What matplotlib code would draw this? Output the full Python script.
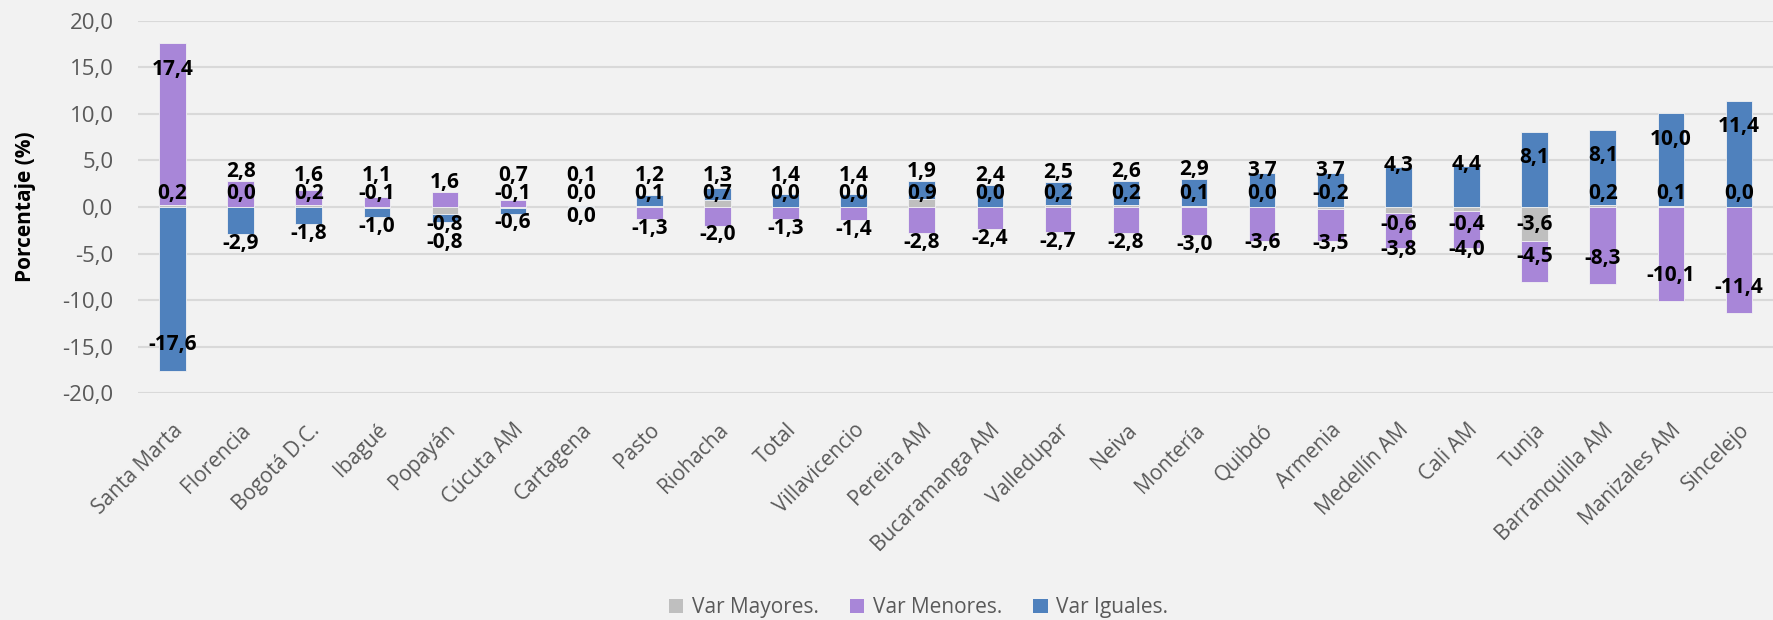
import numpy as np
import matplotlib.pyplot as plt
import matplotlib.transforms as mtransforms
from matplotlib.patches import Patch

plt.rcParams['font.family'] = ['Open Sans', 'DejaVu Sans']

# Datos por ciudad (variación en puntos porcentuales)
ciudades = ['Santa Marta', 'Florencia', 'Bogotá D.C.', 'Ibagué', 'Popayán', 'Cúcuta AM',
            'Cartagena', 'Pasto', 'Riohacha', 'Total', 'Villavicencio', 'Pereira AM',
            'Bucaramanga AM', 'Valledupar', 'Neiva', 'Montería', 'Quibdó', 'Armenia',
            'Medellín AM', 'Cali AM', 'Tunja', 'Barranquilla AM', 'Manizales AM', 'Sincelejo']
var_mayores = [0.2, 0.0, 0.2, -0.1, -0.8, -0.1, 0.0, 0.1, 0.7, 0.0, 0.0, 0.9,
               0.0, 0.2, 0.2, 0.1, 0.0, -0.2, -0.6, -0.4, -3.6, 0.2, 0.1, 0.0]
var_menores = [17.4, 2.8, 1.6, 1.1, 1.6, 0.7, 0.0, -1.3, -2.0, -1.3, -1.4, -2.8,
               -2.4, -2.7, -2.8, -3.0, -3.6, -3.5, -3.8, -4.0, -4.5, -8.3, -10.1, -11.4]
var_iguales = [-17.6, -2.9, -1.8, -1.0, -0.8, -0.6, 0.1, 1.2, 1.3, 1.4, 1.4, 1.9,
               2.4, 2.5, 2.6, 2.9, 3.7, 3.7, 4.3, 4.4, 8.1, 8.1, 10.0, 11.4]

nombres = ['Var Mayores.', 'Var Menores.', 'Var Iguales.']
colores = ['#BFBFBF', '#A886D8', '#4F81BD']
series = [var_mayores, var_menores, var_iguales]

fondo = '#F2F2F2'
gris_txt = '#595959'

def fmt(v):
    return f'{v:.1f}'.replace('.', ',')

fig = plt.figure(figsize=(17.73, 6.2), dpi=100, facecolor=fondo)
ax = fig.add_axes([0.0781, 0.3656, 0.9219, 0.601])
ax.set_facecolor(fondo)

x = np.arange(len(ciudades))
ancho = 0.39

# apilado estilo Excel: positivos y negativos por separado
base_pos = np.zeros(len(ciudades))
base_neg = np.zeros(len(ciudades))
fin_seg = []
for vals, col, nom in zip(series, colores, nombres):
    v = np.array(vals)
    base = np.where(v >= 0, base_pos, base_neg)
    ax.bar(x, v, ancho, bottom=base, color=col, edgecolor=fondo, linewidth=0.6,
           label=nom, zorder=3)
    fin_seg.append(base + v)
    base_pos = np.where(v >= 0, base_pos + v, base_pos)
    base_neg = np.where(v < 0, base_neg + v, base_neg)

# etiquetas de datos
for i in range(len(ciudades)):
    g = var_mayores[i]
    y_g = 1.5 if g >= -0.25 else -1.9
    ax.text(x[i], y_g, fmt(g), ha='center', va='center', fontsize=15,
            fontweight='bold', color='black', zorder=5)
    for k in (1, 2):
        v = series[k][i]
        lado = 1 if v > 0 else -1
        fin = abs(fin_seg[k][i])
        if fin < 3.5:
            pos = fin + 1.0
        elif fin < 6:
            pos = fin + 0.2
        else:
            pos = fin - 2.8
        if np.sign(y_g) == lado:
            pos = max(pos, abs(y_g) + 1.9)
        ax.text(x[i], lado * pos, fmt(v), ha='center', va='center', fontsize=15,
                fontweight='bold', color='black', zorder=5)

ax.set_xlim(-0.5, len(ciudades) - 0.5)
ax.set_ylim(-20, 20)
ax.set_yticks(np.arange(-20, 21, 5))
ax.set_yticklabels([fmt(t) for t in np.arange(-20, 21, 5)], fontsize=16, color=gris_txt)
ax.set_xticks(x)
ax.set_xticklabels(ciudades, rotation=45, ha='right', va='top', rotation_mode='anchor',
                   fontsize=15, color=gris_txt)
desplaza = mtransforms.ScaledTranslation(-6 / 100, 0, fig.dpi_scale_trans)
for lab in ax.get_xticklabels():
    lab.set_transform(lab.get_transform() + desplaza)
ax.tick_params(axis='both', length=0)
ax.tick_params(axis='x', pad=19)
ax.tick_params(axis='y', pad=18)
ax.grid(axis='y', color='#D9D9D9', linewidth=1.5, zorder=0)
for s in ax.spines.values():
    s.set_visible(False)

ax.set_ylabel('Porcentaje (%)', fontsize=15, fontweight='bold', color='black')
ax.yaxis.set_label_coords(-0.0627, 0.5)

manejadores = [Patch(facecolor=c, edgecolor='none') for c in colores]
fig.legend(manejadores, nombres, loc='center', bbox_to_anchor=(0.518, 0.02), ncol=3,
           frameon=False, fontsize=15, labelcolor=gris_txt, handlelength=0.7,
           handleheight=0.7, handletextpad=0.4, columnspacing=1.5)

plt.savefig('out.png', dpi=100, facecolor=fondo)
